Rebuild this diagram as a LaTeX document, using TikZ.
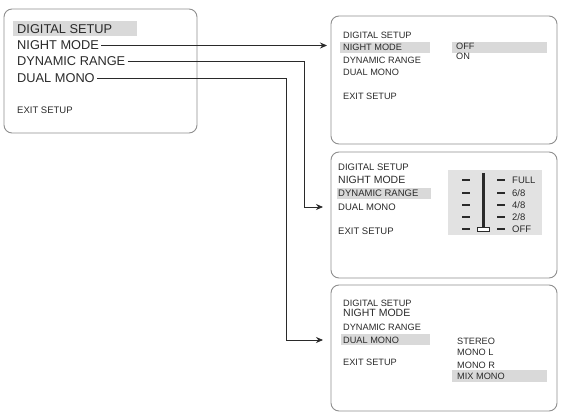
\documentclass[tikz,border=0pt]{standalone}
\usepackage{fontspec}
\setmainfont{Liberation Sans}
\usetikzlibrary{arrows.meta,positioning}
\definecolor{boxgray}{HTML}{8E8E8E}
\definecolor{hlgray}{HTML}{D9D9D9}
\definecolor{panelgray}{HTML}{E2E2E2}
\definecolor{inkgray}{HTML}{2A2A2A}

\begin{document}
\begin{tikzpicture}[x=1pt,y=-1pt,
  menubox/.style={draw=boxgray,line width=0.9pt,rounded corners=8pt,anchor=north west,inner sep=0pt,outer sep=0pt},
  hilite/.style={fill=hlgray,anchor=north west,inner sep=0pt,outer sep=0pt},
  item/.style={anchor=west,inner xsep=2pt,inner ysep=0pt,text=inkgray,font=\fontsize{9.2}{10}\selectfont},
  bigitem/.style={item,font=\fontsize{12.8}{14}\selectfont},
  lvl/.style={item,font=\fontsize{9.5}{10}\selectfont},
  arr/.style={-{Stealth[length=7pt,width=6pt]},line width=0.8pt,draw=inkgray}
]
\useasboundingbox (0,0) rectangle (562,414);

% main menu
\node[menubox,minimum width=193pt,minimum height=124pt] (main) at (4,9) {};
\node[hilite,minimum width=124pt,minimum height=15pt] (mainhl) at (13,21) {};
\node[bigitem] (mds) at (15,29) {DIGITAL SETUP};
\node[bigitem] (mnm) at (15,45.5) {NIGHT MODE};
\node[bigitem] (mdr) at (15,61) {DYNAMIC RANGE};
\node[bigitem] (mdm) at (15,78) {DUAL MONO};
\node[item,font=\fontsize{9.5}{11}\selectfont] (mex) at (15,110) {EXIT SETUP};

% night mode screen
\node[menubox,minimum width=226pt,minimum height=128pt] (nbox) at (331,16) {};
\node[hilite,minimum width=90pt,minimum height=11pt] (nhl) at (340,42) {};
\node[hilite,minimum width=95pt,minimum height=11pt] (nhloff) at (452,42) {};
\foreach \txt/\yy [count=\i] in {DIGITAL SETUP/35,NIGHT MODE/47,DYNAMIC RANGE/60,DUAL MONO/72,EXIT SETUP/96}
  \node[item] (n\i) at (341,\yy) {\txt};
\node[item] (noff) at (454,46.5) {OFF};
\node[item] (non) at (454,56) {ON};

% dynamic range screen
\node[menubox,minimum width=226pt,minimum height=126pt] (dbox) at (331,152) {};
\node[hilite,minimum width=94pt,minimum height=11pt] (dhl) at (337,188) {};
\foreach \txt/\yy [count=\i] in {DIGITAL SETUP/167,DYNAMIC RANGE/193,DUAL MONO/207,EXIT SETUP/231}
  \node[item,font=\fontsize{9.5}{11}\selectfont] (d\i) at (336,\yy) {\txt};
\node[item,font=\fontsize{10.5}{12}\selectfont] (dnm) at (336,180) {NIGHT MODE};
\node[hilite,fill=panelgray,minimum width=94pt,minimum height=65pt] (panel) at (448,170) {};
\draw[inkgray,line width=3pt] (483,173) -- (483,232);
\foreach \lbl/\yy/\w [count=\i] in {FULL/180/2.4,{6/8}/193/1.2,{4/8}/205/1.2,{2/8}/217/2.4,OFF/229/2.4}{
  \draw[inkgray,line width=\w pt] (462,\yy) -- (470,\yy);
  \draw[inkgray,line width=\w pt] (497,\yy) -- (505,\yy);
  \node[lvl] (lv\i) at (510,\yy) {\lbl};
}
\draw[inkgray,fill=white,line width=0.8pt] (477,227) rectangle (489,231);

% dual mono screen
\node[menubox,minimum width=226pt,minimum height=126pt] (mbox) at (331,285) {};
\node[hilite,minimum width=89pt,minimum height=11pt] (mhl) at (341,334) {};
\node[hilite,minimum width=95pt,minimum height=12pt] (mhlmix) at (452,370) {};
\foreach \txt/\yy [count=\i] in {DIGITAL SETUP/303,DYNAMIC RANGE/327,DUAL MONO/340,EXIT SETUP/362}
  \node[item] (m\i) at (341,\yy) {\txt};
\node[item,font=\fontsize{10.5}{12}\selectfont] (mnmode) at (341,313) {NIGHT MODE};
\foreach \txt/\yy [count=\i] in {STEREO/341,MONO L/352,MONO R/365,MIX MONO/376}
  \node[item] (o\i) at (455,\yy) {\txt};

% connectors
\coordinate (in1) at (327,46);
\coordinate (in2) at (323,207);
\coordinate (in3) at (323,340);
\draw[arr] (mnm.east) -- (in1 |- mnm.east);
\draw[arr] (mdr.east) -| ([xshift=-19pt]in2) -- (in2);
\draw[arr] (mdm.east) -| ([xshift=-37pt]in3) -- (in3);
\end{tikzpicture}
\end{document}
